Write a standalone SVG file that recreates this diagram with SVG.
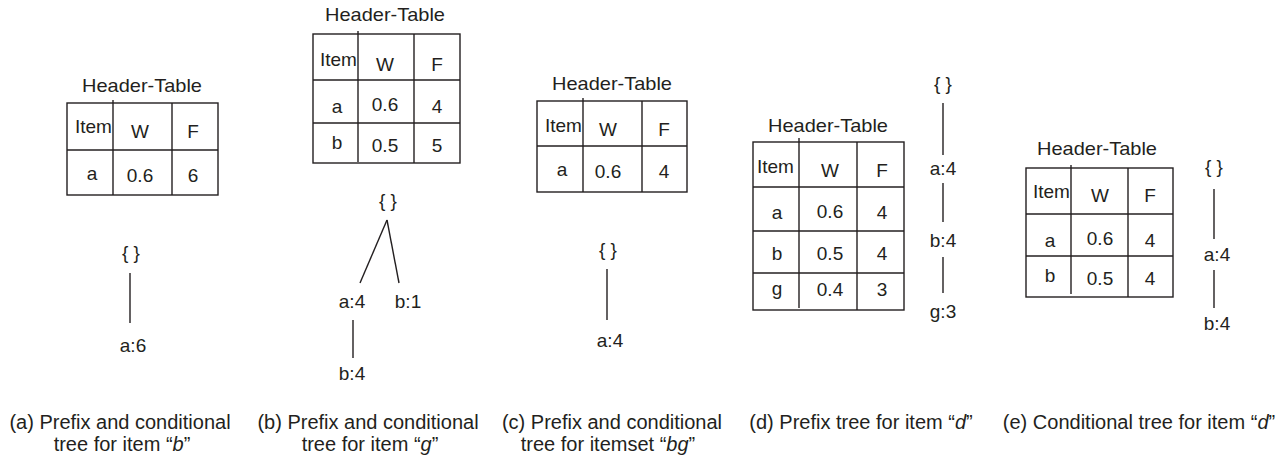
<svg xmlns="http://www.w3.org/2000/svg" width="1287" height="462" viewBox="0 0 1287 462">
  <style>
    text { font-family: "Liberation Sans", Arial, sans-serif; fill: #231f20; }
    .ht { font-size: 19px; text-anchor: middle; }
    .cell { font-size: 19px; text-anchor: middle; }
    .item { font-size: 19px; }
    .lbl { font-size: 19px; text-anchor: middle; }
    .cap { font-size: 20px; text-anchor: middle; }
    .box { fill: none; stroke: #231f20; stroke-width: 1.4; }
    .rule { stroke: #231f20; stroke-width: 1.4; }
    .edge { stroke: #231f20; stroke-width: 1.4; fill: none; }
  </style>

  <!-- (a) header table -->
  <g id="table-a">
    <text class="ht" x="142" y="92" textLength="120" lengthAdjust="spacingAndGlyphs">Header-Table</text>
    <rect class="box" x="67" y="103" width="151" height="92"/>
    <line class="rule" x1="67" y1="150" x2="218" y2="150"/>
    <line class="rule" x1="113" y1="100" x2="113" y2="195"/>
    <line class="rule" x1="172" y1="103" x2="172" y2="195"/>
    <text class="item" x="75" y="133">Item</text>
    <text class="cell" x="140" y="138">W</text>
    <text class="cell" x="193" y="138">F</text>
    <text class="cell" x="92" y="180">a</text>
    <text class="cell" x="140" y="182">0.6</text>
    <text class="cell" x="193" y="182">6</text>
  </g>

  <!-- (b) header table -->
  <g id="table-b">
    <text class="ht" x="385" y="21" textLength="120" lengthAdjust="spacingAndGlyphs">Header-Table</text>
    <rect class="box" x="313" y="34" width="147" height="129"/>
    <line class="rule" x1="313" y1="80" x2="460" y2="80"/>
    <line class="rule" x1="313" y1="123" x2="460" y2="123"/>
    <line class="rule" x1="358" y1="31" x2="358" y2="162"/>
    <line class="rule" x1="414" y1="34" x2="414" y2="163"/>
    <text class="item" x="320" y="66">Item</text>
    <text class="cell" x="385" y="71">W</text>
    <text class="cell" x="437" y="71">F</text>
    <text class="cell" x="337" y="113">a</text>
    <text class="cell" x="385" y="111">0.6</text>
    <text class="cell" x="437" y="113">4</text>
    <text class="cell" x="337" y="149">b</text>
    <text class="cell" x="385" y="152">0.5</text>
    <text class="cell" x="437" y="152">5</text>
  </g>

  <!-- (c) header table -->
  <g id="table-c">
    <text class="ht" x="612" y="90" textLength="120" lengthAdjust="spacingAndGlyphs">Header-Table</text>
    <rect class="box" x="537" y="101" width="150" height="91"/>
    <line class="rule" x1="537" y1="146" x2="687" y2="146"/>
    <line class="rule" x1="583" y1="98" x2="583" y2="192"/>
    <line class="rule" x1="642" y1="101" x2="642" y2="192"/>
    <text class="item" x="545" y="132">Item</text>
    <text class="cell" x="608" y="136">W</text>
    <text class="cell" x="664" y="136">F</text>
    <text class="cell" x="562" y="176">a</text>
    <text class="cell" x="608" y="178">0.6</text>
    <text class="cell" x="664" y="178">4</text>
  </g>

  <!-- (d) header table -->
  <g id="table-d">
    <text class="ht" x="828" y="132" textLength="120" lengthAdjust="spacingAndGlyphs">Header-Table</text>
    <rect class="box" x="753" y="142" width="151" height="168"/>
    <line class="rule" x1="753" y1="187" x2="904" y2="187"/>
    <line class="rule" x1="753" y1="231" x2="904" y2="231"/>
    <line class="rule" x1="753" y1="273" x2="904" y2="273"/>
    <line class="rule" x1="799" y1="138" x2="799" y2="308"/>
    <line class="rule" x1="857" y1="142" x2="857" y2="310"/>
    <text class="item" x="757" y="173">Item</text>
    <text class="cell" x="830" y="177">W</text>
    <text class="cell" x="882" y="177">F</text>
    <text class="cell" x="777" y="219">a</text>
    <text class="cell" x="830" y="218">0.6</text>
    <text class="cell" x="882" y="219">4</text>
    <text class="cell" x="777" y="260">b</text>
    <text class="cell" x="830" y="260">0.5</text>
    <text class="cell" x="882" y="260">4</text>
    <text class="cell" x="777" y="295">g</text>
    <text class="cell" x="830" y="296">0.4</text>
    <text class="cell" x="882" y="296">3</text>
  </g>

  <!-- (e) header table -->
  <g id="table-e">
    <text class="ht" x="1097" y="155" textLength="120" lengthAdjust="spacingAndGlyphs">Header-Table</text>
    <rect class="box" x="1026" y="168" width="147" height="129"/>
    <line class="rule" x1="1026" y1="214" x2="1173" y2="214"/>
    <line class="rule" x1="1026" y1="256" x2="1173" y2="256"/>
    <line class="rule" x1="1071" y1="165" x2="1071" y2="294"/>
    <line class="rule" x1="1128" y1="168" x2="1128" y2="297"/>
    <text class="item" x="1033" y="198">Item</text>
    <text class="cell" x="1100" y="202">W</text>
    <text class="cell" x="1150" y="202">F</text>
    <text class="cell" x="1050" y="247">a</text>
    <text class="cell" x="1100" y="245">0.6</text>
    <text class="cell" x="1150" y="247">4</text>
    <text class="cell" x="1050" y="282">b</text>
    <text class="cell" x="1100" y="285">0.5</text>
    <text class="cell" x="1150" y="285">4</text>
  </g>

  <!-- tree nodes -->
  <g id="a-root"><text class="lbl" x="131" y="259">{ }</text></g>
  <g id="a-a6"><text class="lbl" x="133" y="352">a:6</text></g>

  <g id="b-root"><text class="lbl" x="388" y="207">{ }</text></g>
  <g id="b-a4"><text class="lbl" x="352" y="308">a:4</text></g>
  <g id="b-b1"><text class="lbl" x="408" y="308">b:1</text></g>
  <g id="b-b4"><text class="lbl" x="352" y="380">b:4</text></g>

  <g id="c-root"><text class="lbl" x="608" y="256">{ }</text></g>
  <g id="c-a4"><text class="lbl" x="610" y="347">a:4</text></g>

  <g id="d-root"><text class="lbl" x="943" y="90">{ }</text></g>
  <g id="d-a4"><text class="lbl" x="943" y="175">a:4</text></g>
  <g id="d-b4"><text class="lbl" x="943" y="247">b:4</text></g>
  <g id="d-g3"><text class="lbl" x="943" y="318">g:3</text></g>

  <g id="e-root"><text class="lbl" x="1214" y="173">{ }</text></g>
  <g id="e-a4"><text class="lbl" x="1217" y="261">a:4</text></g>
  <g id="e-b4"><text class="lbl" x="1217" y="330">b:4</text></g>

  <!-- tree edges -->
  <g id="connectors">
    <line class="edge" x1="130" y1="273" x2="130" y2="323"/>
    <line class="edge" x1="387" y1="220" x2="360" y2="283"/>
    <line class="edge" x1="387" y1="220" x2="399" y2="283"/>
    <line class="edge" x1="353" y1="320" x2="353" y2="358"/>
    <line class="edge" x1="607" y1="269" x2="607" y2="320"/>
    <line class="edge" x1="943" y1="103" x2="943" y2="155"/>
    <line class="edge" x1="943" y1="183" x2="943" y2="222"/>
    <line class="edge" x1="943" y1="257" x2="943" y2="293"/>
    <line class="edge" x1="1214" y1="189" x2="1214" y2="239"/>
    <line class="edge" x1="1214" y1="270" x2="1214" y2="308"/>
  </g>

  <!-- captions -->
  <g id="captions">
    <text class="cap" x="120" y="429">(a) Prefix and conditional</text>
    <text class="cap" x="122" y="451">tree for item “<tspan font-style="italic">b</tspan>”</text>
    <text class="cap" x="368" y="429">(b) Prefix and conditional</text>
    <text class="cap" x="370" y="451">tree for item “<tspan font-style="italic">g</tspan>”</text>
    <text class="cap" x="612" y="429">(c) Prefix and conditional</text>
    <text class="cap" x="608" y="451">tree for itemset “<tspan font-style="italic">bg</tspan>”</text>
    <text class="cap" x="861" y="429">(d) Prefix tree for item “<tspan font-style="italic">d</tspan>”</text>
    <text class="cap" x="1139" y="429">(e) Conditional tree for item “<tspan font-style="italic">d</tspan>”</text>
  </g>
</svg>
